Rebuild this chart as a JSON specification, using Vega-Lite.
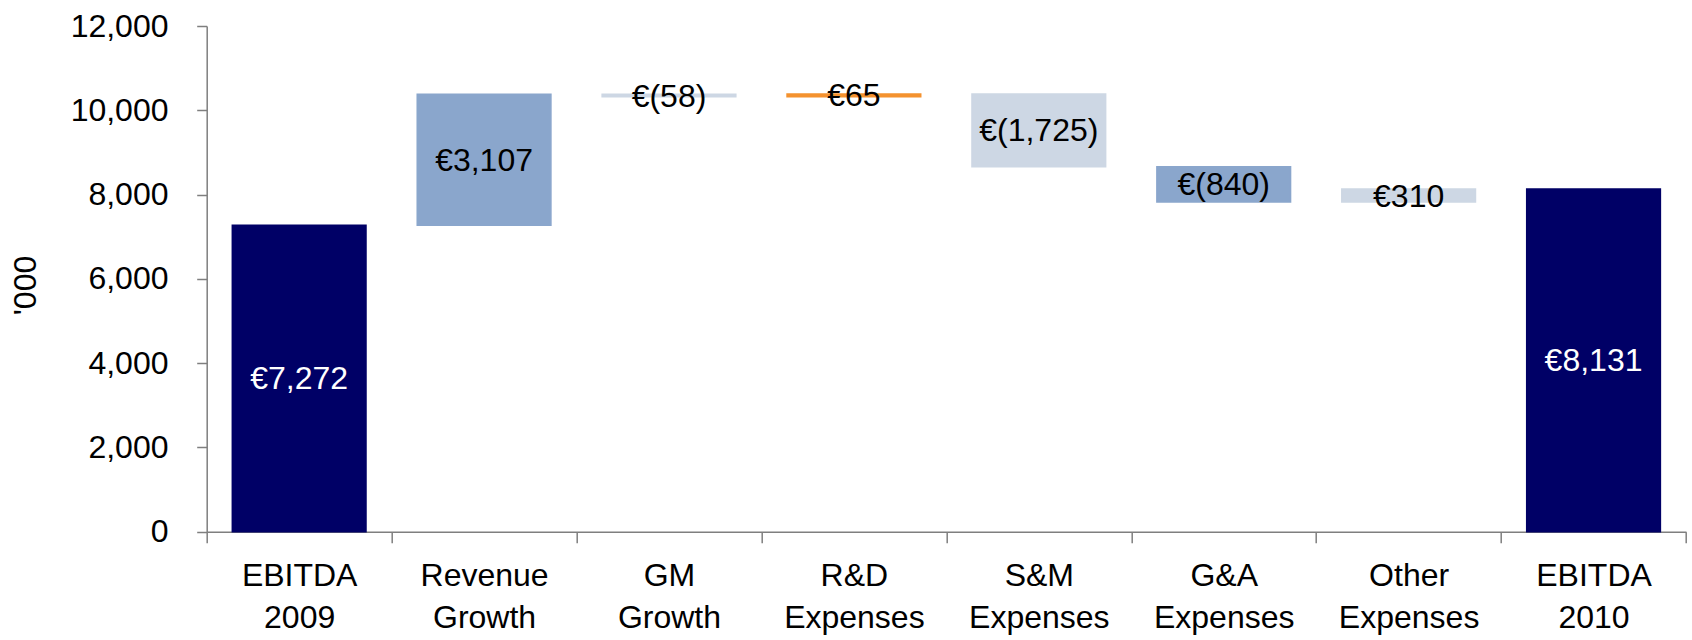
{
  "$schema": "https://vega.github.io/schema/vega-lite/v6.json",
  "autosize": "none",
  "width": 1479.3,
  "height": 505.7,
  "padding": {"left": 206.7, "top": 26, "right": 6, "bottom": 108.3},
  "background": "white",
  "config": {
    "view": {"stroke": null},
    "font": "Liberation Sans, Arial, sans-serif"
  },
  "data": {
    "values": [
      {"step": "EBITDA 2009", "start": 0, "end": 7272, "label": "€7,272", "kind": "total"},
      {"step": "Revenue Growth", "start": 7272, "end": 10379, "label": "€3,107", "kind": "mid"},
      {"step": "GM Growth", "start": 10379, "end": 10321, "label": "€(58)", "kind": "light"},
      {"step": "R&D Expenses", "start": 10321, "end": 10386, "label": "€65", "kind": "accent"},
      {"step": "S&M Expenses", "start": 10386, "end": 8661, "label": "€(1,725)", "kind": "light"},
      {"step": "G&A Expenses", "start": 8661, "end": 7821, "label": "€(840)", "kind": "mid"},
      {"step": "Other Expenses", "start": 7821, "end": 8131, "label": "€310", "kind": "light"},
      {"step": "EBITDA 2010", "start": 0, "end": 8131, "label": "€8,131", "kind": "total"}
    ]
  },
  "encoding": {
    "x": {
      "field": "step",
      "type": "nominal",
      "sort": ["EBITDA 2009", "Revenue Growth", "GM Growth", "R&D Expenses", "S&M Expenses", "G&A Expenses", "Other Expenses", "EBITDA 2010"],
      "scale": {"paddingInner": 0, "paddingOuter": 0},
      "axis": {
        "title": null,
        "labelAngle": 0,
        "labelExpr": "split(datum.label, ' ')",
        "labelFontSize": 32,
        "labelLineHeight": 42,
        "labelColor": "#000000",
        "labelPadding": 18,
        "labelBaseline": "top",
        "tickBand": "extent",
        "tickSize": 11,
        "tickColor": "#7f7f7f",
        "tickWidth": 1.5,
        "domainColor": "#7f7f7f",
        "domainWidth": 1.5,
        "grid": false
      }
    }
  },
  "layer": [
    {
      "mark": {"type": "bar", "strokeWidth": 1.5, "width": {"band": 0.723}},
      "encoding": {
        "y": {
          "field": "start",
          "type": "quantitative",
          "scale": {"domain": [0, 12000], "nice": false},
          "axis": {
            "title": "'000",
            "values": [0, 2000, 4000, 6000, 8000, 10000, 12000],
            "format": ",.0f",
            "labelFontSize": 32,
            "labelColor": "#000000",
            "labelPadding": 28.7,
            "tickSize": 10,
            "tickColor": "#7f7f7f",
            "tickWidth": 1.5,
            "domainColor": "#7f7f7f",
            "domainWidth": 1.5,
            "grid": false,
            "titleFontSize": 32,
            "titleFontWeight": "normal",
            "titleColor": "#000000",
            "titleAngle": -90,
            "titleAlign": "center",
            "titleBaseline": "middle",
            "titleX": -181,
            "titleY": 259
          }
        },
        "y2": {"field": "end"},
        "color": {
          "field": "kind",
          "type": "nominal",
          "scale": {"domain": ["total", "mid", "light", "accent"], "range": ["#000066", "#8aa6cc", "#cdd7e4", "#f4922f"]},
          "legend": null
        },
        "stroke": {
          "field": "kind",
          "type": "nominal",
          "scale": {"domain": ["total", "mid", "light", "accent"], "range": ["#000066", "#8aa6cc", "#cdd7e4", "#f4922f"]},
          "legend": null
        }
      }
    },
    {
      "transform": [
        {"fold": ["start", "end"], "as": ["edge", "v"]},
        {"aggregate": [{"op": "mean", "field": "v", "as": "mid"}], "groupby": ["step", "label", "kind"]}
      ],
      "mark": {"type": "text", "fontSize": 32, "baseline": "middle", "align": "center", "dy": 1},
      "encoding": {
        "y": {"field": "mid", "type": "quantitative"},
        "text": {"field": "label"},
        "color": {
          "condition": {"test": "datum.kind === 'total'", "value": "#ffffff"},
          "value": "#000000"
        }
      }
    }
  ]
}
